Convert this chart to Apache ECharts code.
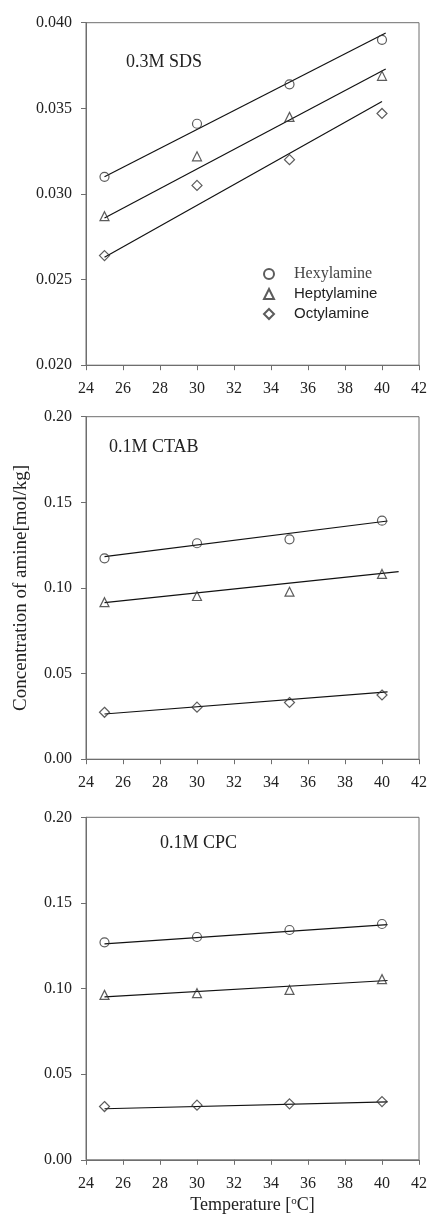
<!DOCTYPE html>
<html>
<head>
<meta charset="utf-8">
<script src="https://cdn.jsdelivr.net/npm/echarts@6/dist/echarts.min.js"></script>
<style>
  html, body { margin: 0; padding: 0; background: #fff; }
  #chart { width: 428px; height: 1222px; }
</style>
</head>
<body>
<div id="chart"></div>
<script>
// temperatures (x) shared by all panels
var temps = [25, 30, 35, 40];

// 0.3M SDS
var sdsHex  = [0.0310, 0.0341, 0.0364, 0.0390];
var sdsHept = [0.0287, 0.0322, 0.0345, 0.0369];
var sdsOct  = [0.0264, 0.0305, 0.0320, 0.0347];
// fitted lines: [x start, x end], [y start, y end]
var sdsHexFit  = [[25, 40.2], [0.0310, 0.0394]];
var sdsHeptFit = [[25, 40.2], [0.0286, 0.0373]];
var sdsOctFit  = [[25, 40.0], [0.0263, 0.0354]];

// 0.1M CTAB
var ctabHex  = [0.1173, 0.1261, 0.1284, 0.1393];
var ctabHept = [0.0917, 0.0953, 0.0978, 0.1082];
var ctabOct  = [0.0274, 0.0304, 0.0331, 0.0375];
var ctabHexFit  = [[25, 40.3], [0.1183, 0.1391]];
var ctabHeptFit = [[25, 40.9], [0.0914, 0.1095]];
var ctabOctFit  = [[25, 40.3], [0.0264, 0.0393]];

// 0.1M CPC
var cpcHex  = [0.1270, 0.1301, 0.1342, 0.1377];
var cpcHept = [0.0963, 0.0973, 0.0992, 0.1055];
var cpcOct  = [0.0311, 0.0319, 0.0327, 0.0340];
var cpcHexFit  = [[25, 40.3], [0.1261, 0.1373]];
var cpcHeptFit = [[25, 40.3], [0.0951, 0.1047]];
var cpcOctFit  = [[25, 40.3], [0.0298, 0.0338]];

var names = ['Hexylamine', 'Heptylamine', 'Octylamine'];
var symbols = ['circle', 'triangle', 'diamond'];
var symbolSizes = [9, 9, 10];

var serif = '"Liberation Serif", "Times New Roman", serif';
var sans = '"Liberation Sans", Arial, sans-serif';
var ink = '#222';
var frame = '#6e6e6e';

function pairs(xs, ys) {
    var out = [];
    for (var i = 0; i < xs.length; i++) out.push([xs[i], ys[i]]);
    return out;
}

var panels = [
    { vals: [sdsHex, sdsHept, sdsOct], fits: [sdsHexFit, sdsHeptFit, sdsOctFit], top: 22.7, min: 0.020, max: 0.040, step: 0.005, dec: 3 },
    { vals: [ctabHex, ctabHept, ctabOct], fits: [ctabHexFit, ctabHeptFit, ctabOctFit], top: 416.7, min: 0, max: 0.20, step: 0.05, dec: 2 },
    { vals: [cpcHex, cpcHept, cpcOct], fits: [cpcHexFit, cpcHeptFit, cpcOctFit], top: 817.3, min: 0, max: 0.20, step: 0.05, dec: 2 }
];

var grids = [], xAxes = [], yAxes = [], series = [];

panels.forEach(function (p, k) {
    grids.push({
        left: 86, width: 333, top: p.top, height: 342.5,
        outerBoundsMode: 'none', containLabel: false,
        show: true, borderColor: frame, borderWidth: 1, backgroundColor: 'transparent'
    });
    xAxes.push({
        type: 'value', gridIndex: k, min: 24, max: 42, interval: 2,
        axisLine: { show: true, lineStyle: { color: frame, width: 1 } },
        axisTick: { show: true, length: 5, lineStyle: { color: frame } },
        splitLine: { show: false },
        axisLabel: { color: ink, fontFamily: serif, fontSize: 16, margin: 16 },
        name: k === 2 ? 'Temperature [{sup|o}C]' : '',
        nameLocation: 'middle', nameGap: 36,
        nameTextStyle: {
            color: ink, fontFamily: serif, fontSize: 18,
            rich: { sup: { fontSize: 11, fontFamily: serif, color: ink, verticalAlign: 'bottom', padding: [0, 0, 8, 0] } }
        }
    });
    yAxes.push({
        type: 'value', gridIndex: k, min: p.min, max: p.max, interval: p.step,
        axisLine: { show: true, lineStyle: { color: frame, width: 1 } },
        axisTick: { show: true, length: 5, lineStyle: { color: frame } },
        splitLine: { show: false },
        axisLabel: {
            color: ink, fontFamily: serif, fontSize: 16, margin: 14,
            formatter: function (v) { return v.toFixed(p.dec); }
        },
        name: k === 1 ? 'Concentration of amine[mol/kg]' : '',
        nameLocation: 'middle', nameGap: 55, nameRotate: 90,
        nameTextStyle: { color: ink, fontFamily: serif, fontSize: 19 }
    });
    for (var s = 0; s < 3; s++) {
        series.push({
            name: names[s], type: 'scatter', xAxisIndex: k, yAxisIndex: k,
            symbol: symbols[s], symbolSize: symbolSizes[s],
            itemStyle: { color: 'rgba(255,255,255,0)', borderColor: '#333', borderWidth: 1.2 },
            data: pairs(temps, p.vals[s]), z: 3
        });
        series.push({
            type: 'line', xAxisIndex: k, yAxisIndex: k,
            showSymbol: false, symbol: 'none', silent: true,
            lineStyle: { color: '#111', width: 1.2 },
            data: pairs(p.fits[s][0], p.fits[s][1]), z: 2
        });
    }
});

var titleStyle = { fontFamily: serif, fontSize: 18, fontWeight: 'normal', color: ink };

var chart = echarts.init(document.getElementById('chart'), null, { renderer: 'canvas' });
chart.setOption({
    backgroundColor: '#fff',
    animation: false,
    title: [
        { text: '0.3M SDS', left: 126, top: 53, padding: 0, textStyle: titleStyle },
        { text: '0.1M CTAB', left: 109, top: 438, padding: 0, textStyle: titleStyle },
        { text: '0.1M CPC', left: 160, top: 834, padding: 0, textStyle: titleStyle }
    ],
    legend: {
        orient: 'vertical', left: 263, top: 266, padding: 0,
        itemWidth: 10, itemHeight: 10, itemGap: 4,
        selectedMode: false,
        data: [
            { name: 'Hexylamine', textStyle: { fontFamily: serif, fontSize: 16, color: '#444', lineHeight: 16, padding: [0, 0, 0, 15] } },
            { name: 'Heptylamine', textStyle: { fontFamily: sans, fontSize: 15, color: ink, lineHeight: 16, padding: [0, 0, 0, 15] } },
            { name: 'Octylamine', textStyle: { fontFamily: sans, fontSize: 15, color: ink, lineHeight: 16, padding: [0, 0, 0, 15] } }
        ]
    },
    grid: grids,
    xAxis: xAxes,
    yAxis: yAxes,
    series: series
});
</script>
</body>
</html>
